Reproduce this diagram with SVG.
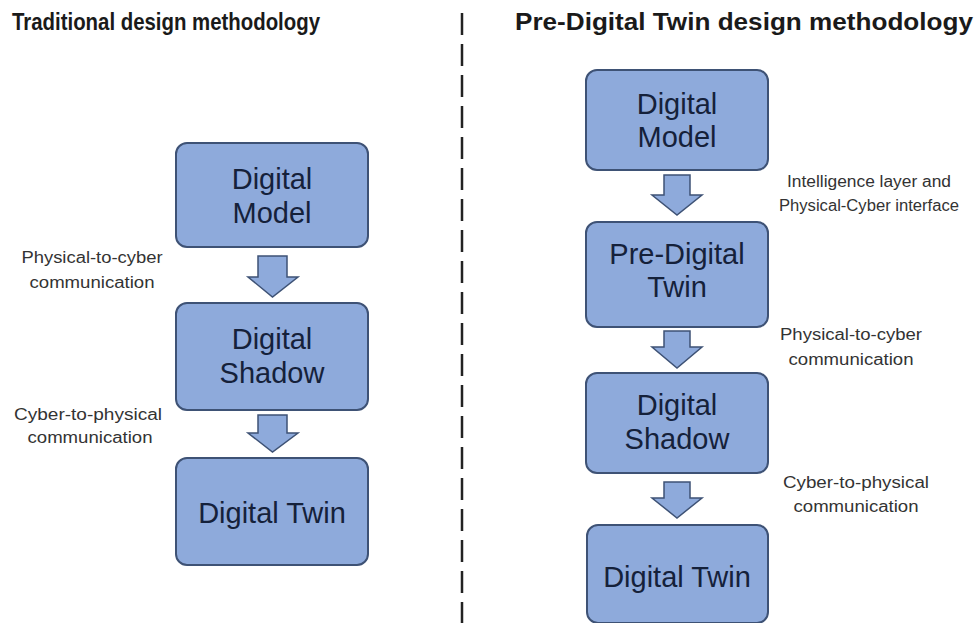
<svg xmlns="http://www.w3.org/2000/svg" width="979" height="623" viewBox="0 0 979 623">
<style>
.box{fill:#8EAADB;stroke:#3E5275;stroke-width:2}
.arr{fill:#8EAADB;stroke:#3E5275;stroke-width:1.5;stroke-linejoin:miter}
.nt{font-family:"Liberation Sans",Arial,sans-serif;font-size:29px;fill:#15213A;text-anchor:middle}
.lb{font-family:"Liberation Sans",Arial,sans-serif;font-size:16px;fill:#333333;text-anchor:middle}
.tt{font-family:"Liberation Sans",Arial,sans-serif;font-size:24px;font-weight:bold;fill:#1a1a1a}
</style>
<rect width="979" height="623" fill="#ffffff"/>
<g id="titles">
<text class="tt" x="12" y="30" textLength="308" lengthAdjust="spacingAndGlyphs">Traditional design methodology</text>
<text class="tt" x="515" y="30" textLength="458" lengthAdjust="spacingAndGlyphs">Pre-Digital Twin design methodology</text>
</g>
<line id="divider" x1="462" y1="13" x2="462" y2="623" stroke="#222" stroke-width="2.5" stroke-dasharray="22 9"/>
<g id="connectors">
<polygon class="arr" points="258,256 287,256 287,277 298,277 272.5,297 248,277 258,277"/>
<polygon class="arr" points="258,415 287,415 287,433 298,433 272.5,452 248,433 258,433"/>
<polygon class="arr" points="664,175 690,175 690,195 702,195 677,215 652,195 664,195"/>
<polygon class="arr" points="664,331 690,331 690,347 702,347 677,368 652,347 664,347"/>
<polygon class="arr" points="664,482 690,482 690,498 702,498 677,518 652,498 664,498"/>
</g>
<g id="labels">
<text class="lb" x="92" y="263" textLength="141" lengthAdjust="spacingAndGlyphs">Physical-to-cyber</text>
<text class="lb" x="92" y="288" textLength="125" lengthAdjust="spacingAndGlyphs">communication</text>
<text class="lb" x="88" y="420" textLength="148" lengthAdjust="spacingAndGlyphs">Cyber-to-physical</text>
<text class="lb" x="90" y="443" textLength="125" lengthAdjust="spacingAndGlyphs">communication</text>
<text class="lb" x="869" y="187" textLength="164" lengthAdjust="spacingAndGlyphs">Intelligence layer and</text>
<text class="lb" x="869" y="211" textLength="180" lengthAdjust="spacingAndGlyphs">Physical-Cyber interface</text>
<text class="lb" x="851" y="340" textLength="142" lengthAdjust="spacingAndGlyphs">Physical-to-cyber</text>
<text class="lb" x="851" y="365" textLength="125" lengthAdjust="spacingAndGlyphs">communication</text>
<text class="lb" x="856" y="488" textLength="146" lengthAdjust="spacingAndGlyphs">Cyber-to-physical</text>
<text class="lb" x="856" y="512" textLength="125" lengthAdjust="spacingAndGlyphs">communication</text>
</g>
<g id="left-digital-model">
<rect class="box" x="176" y="143" width="192" height="104" rx="11"/>
<text class="nt" x="272" y="189">Digital</text>
<text class="nt" x="272" y="223">Model</text>
</g>
<g id="left-digital-shadow">
<rect class="box" x="176" y="303" width="192" height="107" rx="11"/>
<text class="nt" x="272" y="349">Digital</text>
<text class="nt" x="272" y="383">Shadow</text>
</g>
<g id="left-digital-twin">
<rect class="box" x="176" y="458" width="192" height="107" rx="11"/>
<text class="nt" x="272" y="523">Digital Twin</text>
</g>
<g id="right-digital-model">
<rect class="box" x="586" y="70" width="182" height="100" rx="11"/>
<text class="nt" x="677" y="114">Digital</text>
<text class="nt" x="677" y="147">Model</text>
</g>
<g id="right-pre-digital-twin">
<rect class="box" x="586" y="222" width="182" height="105" rx="11"/>
<text class="nt" x="677" y="264">Pre-Digital</text>
<text class="nt" x="677" y="297">Twin</text>
</g>
<g id="right-digital-shadow">
<rect class="box" x="586" y="373" width="182" height="100" rx="11"/>
<text class="nt" x="677" y="415">Digital</text>
<text class="nt" x="677" y="449">Shadow</text>
</g>
<g id="right-digital-twin">
<rect class="box" x="587" y="525" width="181" height="98" rx="11"/>
<text class="nt" x="677" y="587">Digital Twin</text>
</g>
</svg>
